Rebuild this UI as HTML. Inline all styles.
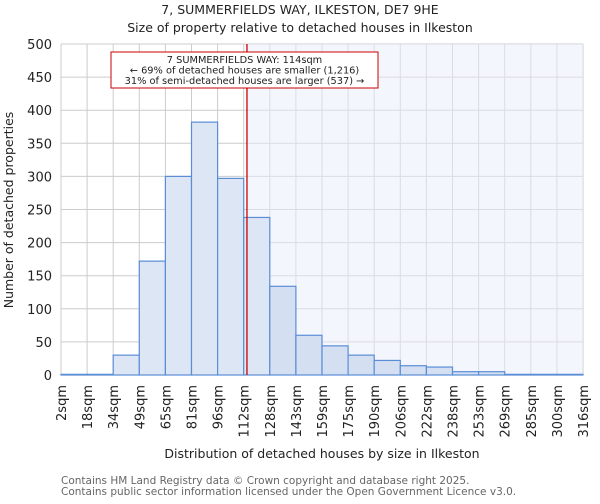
<!DOCTYPE html>
<html><head><meta charset="utf-8"><style>
body{margin:0;background:#fff;font-family:"DejaVu Sans","Liberation Sans",sans-serif}
</style></head><body>
<svg id="chart" width="600" height="500" xmlns="http://www.w3.org/2000/svg" font-family="DejaVu Sans, Liberation Sans, sans-serif">
<text x="300" y="14" font-size="12.5" text-anchor="middle" fill="#222">7, SUMMERFIELDS WAY, ILKESTON, DE7 9HE</text>
<text x="300" y="32" font-size="12.5" text-anchor="middle" fill="#222">Size of property relative to detached houses in Ilkeston</text>
<g id="grid"></g><g id="shade"></g><g id="bars"></g><g id="axes"></g>
<text transform="translate(13,210) rotate(-90)" font-size="12.5" text-anchor="middle" fill="#222">Number of detached properties</text>
<text x="322" y="458" font-size="12.5" text-anchor="middle" fill="#222">Distribution of detached houses by size in Ilkeston</text>
<text x="61" y="484" font-size="10.5" fill="#666">Contains HM Land Registry data © Crown copyright and database right 2025.</text>
<text x="61" y="495" font-size="10.5" fill="#666">Contains public sector information licensed under the Open Government Licence v3.0.</text>
</svg>
<script>
const binLabels=["2sqm","18sqm","34sqm","49sqm","65sqm","81sqm","96sqm","112sqm","128sqm","143sqm","159sqm","175sqm","190sqm","206sqm","222sqm","238sqm","253sqm","269sqm","285sqm","300sqm","316sqm"];
const binEdges=[2,18,34,49,65,81,96,112,128,143,159,175,190,206,222,238,253,269,285,300,316];
const counts=[1,1,30,172,300,382,297,238,134,60,44,30,22,14,12,5,5,1,1,1];
const yTicks=[0,50,100,150,200,250,300,350,400,450,500];
const propertySize=114;
const NS="http://www.w3.org/2000/svg";
const L=61,R=583,T=44,B=375,yMax=500;
const xi=i=>L+(R-L)*i/counts.length;
const xv=v=>{for(let i=0;i<binEdges.length-1;i++){if(v<=binEdges[i+1])return xi(i)+(v-binEdges[i])/(binEdges[i+1]-binEdges[i])*(xi(i+1)-xi(i));}return R;};
const y=v=>B-(B-T)*v/yMax;
function mk(tag,attrs,parent){const e=document.createElementNS(NS,tag);for(const k in attrs)e.setAttribute(k,attrs[k]);document.getElementById(parent).appendChild(e);return e;}
yTicks.forEach(t=>{const g=mk('line',{x1:L,x2:R,y1:y(t),y2:y(t),stroke:'#ccc','stroke-width':1},'grid');


const tx=mk('text',{x:L-9,y:y(t)+5,'font-size':13,'text-anchor':'end',fill:'#222'},'axes');tx.textContent=t;

});
binLabels.forEach((lab,i)=>{const g=mk('line',{x1:xi(i),x2:xi(i),y1:T,y2:B,stroke:'#ccc','stroke-width':1},'grid');


const tx=mk('text',{transform:`translate(${xi(i)+5},${B+10}) rotate(-90)`,'font-size':13,'text-anchor':'end',fill:'#222'},'axes');tx.textContent=lab;

});
const px=xv(propertySize);
const sh=mk('rect',{x:px,y:T,width:R-px,height:B-T,fill:'#e8eefa',opacity:0.5},'shade');


counts.forEach((c,i)=>{const r=mk('rect',{x:xi(i),y:y(c),width:xi(i+1)-xi(i),height:B-y(c),fill:xi(i)>=px-1?'#d4e0f2':'#dce6f4',stroke:'#5b8dd6','stroke-width':1.2},'bars');

});
const ln=mk('line',{x1:px,x2:px,y1:T,y2:B,stroke:'#c00','stroke-width':1.3},'axes');


const box=mk('rect',{x:111,y:52,width:267,height:36,fill:'#fff',stroke:'#c00','stroke-width':1},'axes');


["7 SUMMERFIELDS WAY: 114sqm","← 69% of detached houses are smaller (1,216)","31% of semi-detached houses are larger (537) →"].forEach((s,k)=>{const t=mk('text',{x:244.5,y:63+k*10.5,'font-size':9.8,'text-anchor':'middle',fill:'#222'},'axes');t.textContent=s;

});
</script>
</body></html>
